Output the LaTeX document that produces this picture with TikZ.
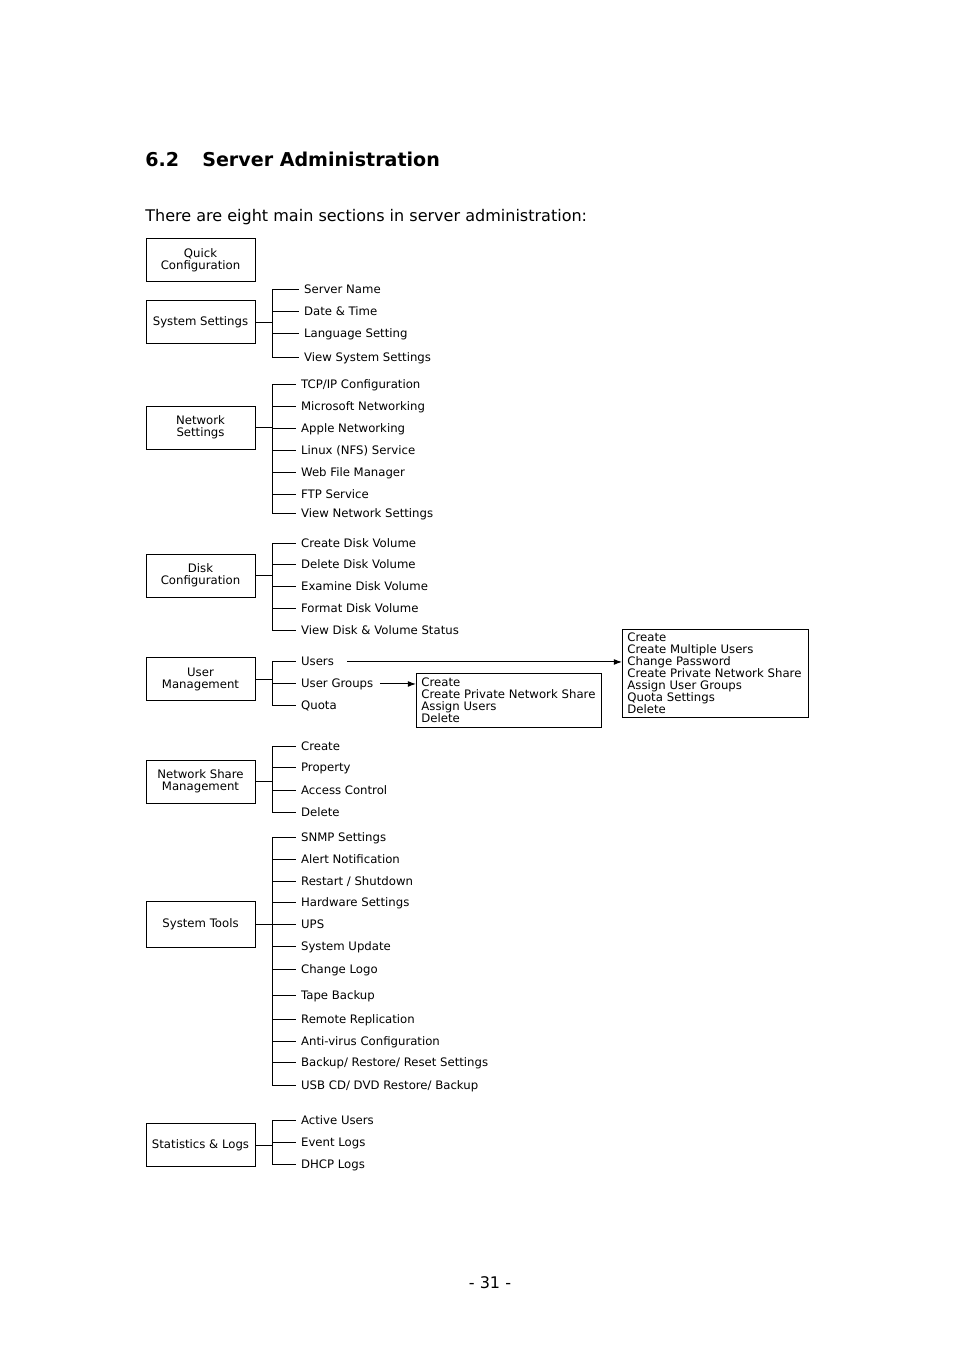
\documentclass[tikz,border=0pt]{standalone}
\usepackage{fontspec}
\setmainfont{DejaVu Sans}
\usetikzlibrary{arrows.meta}
\newcommand\dfont{\fontsize{7.3}{7.5}\selectfont}
\newcommand\bfont{\fontsize{10}{12}\selectfont}
\newcommand\tfont{\fontsize{11.9}{14}\selectfont\bfseries}
\begin{document}
\begin{tikzpicture}[x=0.6238pt,y=-0.6238pt,
  box/.style={draw, line width=0.6pt, minimum width=68pt, minimum height=27.4pt, align=center, font=\dfont, inner sep=0pt},
  lbl/.style={anchor=west, font=\dfont, inner xsep=3pt, inner ysep=0pt, text height=5.5pt, text depth=1.5pt, yshift=-0.6pt},
  ln/.style={line width=0.6pt},
  arr/.style={line width=0.6pt, -{Latex[length=5pt,width=3.6pt]}},
  lst/.style={draw, line width=0.6pt, anchor=north west, align=left, font=\dfont, inner xsep=3.1pt, inner ysep=0pt}
]
\useasboundingbox (0,0) rectangle (954,1351);
\fill[white] (0,0) rectangle (954,1351);

% heading
\node[anchor=base west, inner sep=0, font=\tfont] (num) at (145,166) {6.2};
\node[anchor=base west, inner sep=0, font=\tfont] (ttl) at (202,166) {Server Administration};
\node[anchor=base west, inner sep=0, font=\bfont] (intro) at (145,221) {There are eight main sections in server administration:};

% Quick Configuration
\node[box] (qc) at (200.5,260) {Quick\\Configuration};

% System Settings
\node[box] (ss) at (200.5,322) {System Settings};
\coordinate (sst) at (272,322);
\draw[ln] (ss.east) -- (sst);
\foreach \n/\y/\t in {ss1/289/{Server Name}, ss2/311/{Date \& Time}, ss3/333/{Language Setting}, ss4/357/{View System Settings}} {
  \node[lbl] (\n) at (299,\y) {\t};
  \draw[ln] (sst |- \n.west) -- (\n.west);
}
\draw[ln] (sst |- ss1.west) -- (sst |- ss4.west);

% Network Settings
\node[box, minimum height=26.8pt] (ns) at (200.5,427.5) {Network\\Settings};
\coordinate (nst) at (272,427.5);
\draw[ln] (ns.east) -- (nst);
\foreach \n/\y/\t in {ns1/384/{TCP/IP Configuration}, ns2/406/{Microsoft Networking}, ns3/428/{Apple Networking}, ns4/450/{Linux (NFS) Service}, ns5/472/{Web File Manager}, ns6/494/{FTP Service}, ns7/513/{View Network Settings}} {
  \node[lbl] (\n) at (296,\y) {\t};
  \draw[ln] (nst |- \n.west) -- (\n.west);
}
\draw[ln] (nst |- ns1.west) -- (nst |- ns7.west);

% Disk Configuration
\node[box, minimum height=26.8pt] (dc) at (200.5,575.5) {Disk\\Configuration};
\coordinate (dct) at (272,575.5);
\draw[ln] (dc.east) -- (dct);
\foreach \n/\y/\t in {dc1/543/{Create Disk Volume}, dc2/564/{Delete Disk Volume}, dc3/586/{Examine Disk Volume}, dc4/608/{Format Disk Volume}, dc5/630/{View Disk \& Volume Status}} {
  \node[lbl] (\n) at (296,\y) {\t};
  \draw[ln] (dct |- \n.west) -- (\n.west);
}
\draw[ln] (dct |- dc1.west) -- (dct |- dc5.west);

% User Management
\node[box] (um) at (200.5,679) {User\\Management};
\coordinate (umt) at (272,679);
\draw[ln] (um.east) -- (umt);
\foreach \n/\y/\t in {um1/661/{Users}, um2/683/{User Groups}, um3/705/{Quota}} {
  \node[lbl] (\n) at (296,\y) {\t};
  \draw[ln] (umt |- \n.west) -- (\n.west);
}
\draw[ln] (umt |- um1.west) -- (umt |- um3.west);

\node[lst, text width=109.8pt, minimum height=54.9pt] (ubox) at (622,629)
  {Create\\Create Multiple Users\\Change Password\\Create Private Network Share\\Assign User Groups\\Quota Settings\\Delete};
\node[lst, text width=109.2pt, minimum height=33.7pt] (gbox) at (416,673)
  {Create\\Create Private Network Share\\Assign Users\\Delete};
\draw[arr] ([xshift=5pt]um1.east) -- (ubox.west |- um1.west);
\draw[arr] ([xshift=1pt]um2.east) -- (gbox.west |- um2.west);

% Network Share Management
\node[box, minimum height=26.8pt] (nsm) at (200.5,781.5) {Network Share\\Management};
\coordinate (nsmt) at (272,781.5);
\draw[ln] (nsm.east) -- (nsmt);
\foreach \n/\y/\t in {sm1/746/{Create}, sm2/767/{Property}, sm3/790/{Access Control}, sm4/812/{Delete}} {
  \node[lbl] (\n) at (296,\y) {\t};
  \draw[ln] (nsmt |- \n.west) -- (\n.west);
}
\draw[ln] (nsmt |- sm1.west) -- (nsmt |- sm4.west);

% System Tools
\node[box, minimum height=28.7pt] (st) at (200.5,924) {System Tools};
\coordinate (stt) at (272,924);
\draw[ln] (st.east) -- (stt);
\foreach \n/\y/\t in {st1/837/{SNMP Settings}, st2/859/{Alert Notification}, st3/881/{Restart / Shutdown}, st4/902/{Hardware Settings}, st5/924/{UPS}, st6/946/{System Update}, st7/969/{Change Logo}, st8/995/{Tape Backup}, st9/1019/{Remote Replication}, st10/1041/{Anti-virus Configuration}, st11/1062/{Backup/ Restore/ Reset Settings}, st12/1085/{USB CD/ DVD Restore/ Backup}} {
  \node[lbl] (\n) at (296,\y) {\t};
  \draw[ln] (stt |- \n.west) -- (\n.west);
}
\draw[ln] (stt |- st1.west) -- (stt |- st12.west);

% Statistics & Logs
\node[box] (sl) at (200.5,1145) {Statistics \& Logs};
\coordinate (slt) at (272,1142);
\draw[ln] (sl.east) -- (sl.east -| slt);
\foreach \n/\y/\t in {sl1/1120/{Active Users}, sl2/1142/{Event Logs}, sl3/1164/{DHCP Logs}} {
  \node[lbl] (\n) at (296,\y) {\t};
  \draw[ln] (slt |- \n.west) -- (\n.west);
}
\draw[ln] (slt |- sl1.west) -- (slt |- sl3.west);

% page number
\node[anchor=base, inner sep=0, font=\bfont] (pg) at (490,1288) {- 31 -};
\end{tikzpicture}
\end{document}
